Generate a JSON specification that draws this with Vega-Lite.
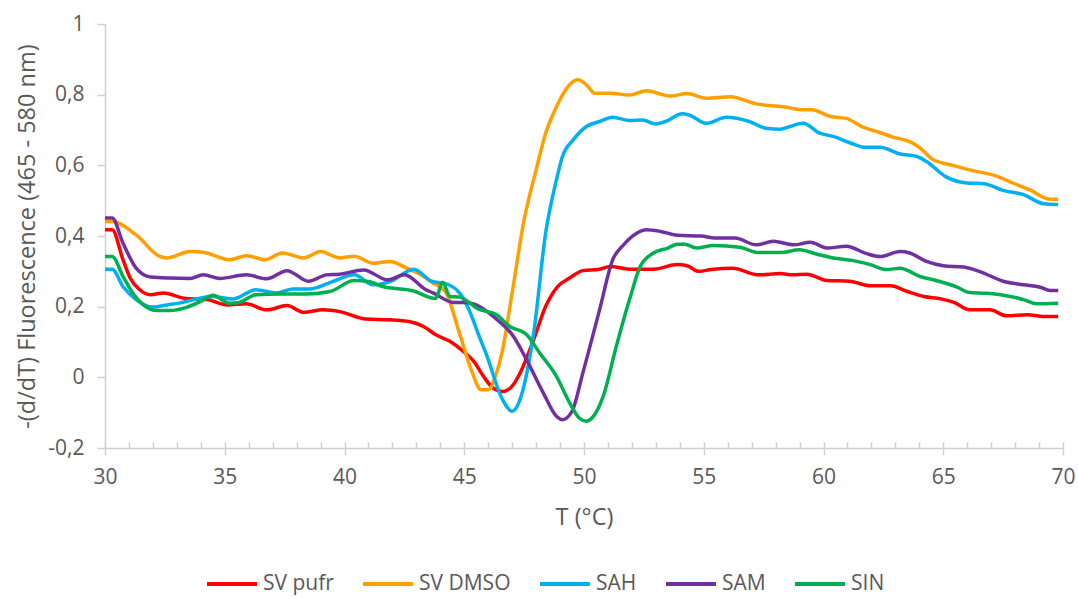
{
  "$schema": "https://vega.github.io/schema/vega-lite/v6.json",
  "autosize": "none",
  "width": 958,
  "height": 424,
  "padding": {"left": 105, "top": 24, "right": 15, "bottom": 151},
  "background": "white",
  "config": {
    "view": {"stroke": null},
    "font": "Open Sans",
    "axis": {"labelFont": "Open Sans", "titleFont": "Open Sans", "labelColor": "#595959", "titleColor": "#595959", "domainColor": "#D0D0D0", "tickColor": "#D0D0D0", "domainWidth": 1.5, "tickWidth": 1.5, "grid": false, "labelFontSize": 21, "titleFontSize": 23.5, "titleFontWeight": "normal"},
    "legend": {"labelFont": "Open Sans", "labelColor": "#595959", "labelFontSize": 21}
  },
  "datasets": {
    "curves": [
      {"s":"SV pufr","T":30.0,"v":0.418},{"s":"SV pufr","T":30.3,"v":0.418},{"s":"SV pufr","T":30.75,"v":0.333},{"s":"SV pufr","T":31.05,"v":0.281},{"s":"SV pufr","T":31.45,"v":0.248},{"s":"SV pufr","T":31.9,"v":0.234},{"s":"SV pufr","T":32.45,"v":0.239},{"s":"SV pufr","T":33.3,"v":0.224},{"s":"SV pufr","T":34.25,"v":0.220},{"s":"SV pufr","T":35.1,"v":0.205},{"s":"SV pufr","T":35.9,"v":0.208},{"s":"SV pufr","T":36.75,"v":0.191},{"s":"SV pufr","T":37.6,"v":0.203},{"s":"SV pufr","T":38.3,"v":0.184},{"s":"SV pufr","T":39.1,"v":0.191},{"s":"SV pufr","T":39.8,"v":0.186},{"s":"SV pufr","T":40.9,"v":0.165},{"s":"SV pufr","T":41.9,"v":0.163},{"s":"SV pufr","T":42.7,"v":0.158},{"s":"SV pufr","T":43.3,"v":0.144},{"s":"SV pufr","T":43.8,"v":0.121},{"s":"SV pufr","T":44.4,"v":0.102},{"s":"SV pufr","T":44.95,"v":0.074},{"s":"SV pufr","T":45.4,"v":0.045},{"s":"SV pufr","T":45.8,"v":0.003},{"s":"SV pufr","T":46.2,"v":-0.030},{"s":"SV pufr","T":46.6,"v":-0.040},{"s":"SV pufr","T":47.0,"v":-0.025},{"s":"SV pufr","T":47.3,"v":0.008},{"s":"SV pufr","T":47.9,"v":0.107},{"s":"SV pufr","T":48.4,"v":0.201},{"s":"SV pufr","T":48.9,"v":0.257},{"s":"SV pufr","T":49.4,"v":0.281},{"s":"SV pufr","T":49.95,"v":0.302},{"s":"SV pufr","T":50.65,"v":0.306},{"s":"SV pufr","T":51.1,"v":0.314},{"s":"SV pufr","T":51.9,"v":0.306},{"s":"SV pufr","T":52.9,"v":0.306},{"s":"SV pufr","T":53.9,"v":0.319},{"s":"SV pufr","T":54.3,"v":0.316},{"s":"SV pufr","T":54.8,"v":0.300},{"s":"SV pufr","T":55.3,"v":0.305},{"s":"SV pufr","T":56.2,"v":0.309},{"s":"SV pufr","T":57.3,"v":0.290},{"s":"SV pufr","T":58.2,"v":0.294},{"s":"SV pufr","T":58.7,"v":0.290},{"s":"SV pufr","T":59.3,"v":0.292},{"s":"SV pufr","T":60.15,"v":0.274},{"s":"SV pufr","T":61.1,"v":0.272},{"s":"SV pufr","T":61.95,"v":0.259},{"s":"SV pufr","T":62.8,"v":0.259},{"s":"SV pufr","T":63.5,"v":0.243},{"s":"SV pufr","T":64.2,"v":0.229},{"s":"SV pufr","T":64.9,"v":0.222},{"s":"SV pufr","T":65.45,"v":0.212},{"s":"SV pufr","T":66.1,"v":0.191},{"s":"SV pufr","T":66.95,"v":0.191},{"s":"SV pufr","T":67.65,"v":0.174},{"s":"SV pufr","T":68.5,"v":0.177},{"s":"SV pufr","T":69.3,"v":0.172},{"s":"SV pufr","T":69.8,"v":0.172},
      {"s":"SV DMSO","T":30.0,"v":0.441},{"s":"SV DMSO","T":30.3,"v":0.441},{"s":"SV DMSO","T":31.3,"v":0.403},{"s":"SV DMSO","T":32.3,"v":0.342},{"s":"SV DMSO","T":32.6,"v":0.338},{"s":"SV DMSO","T":33.55,"v":0.356},{"s":"SV DMSO","T":34.1,"v":0.354},{"s":"SV DMSO","T":35.2,"v":0.333},{"s":"SV DMSO","T":35.9,"v":0.344},{"s":"SV DMSO","T":36.7,"v":0.333},{"s":"SV DMSO","T":37.4,"v":0.352},{"s":"SV DMSO","T":38.3,"v":0.338},{"s":"SV DMSO","T":39.0,"v":0.356},{"s":"SV DMSO","T":39.8,"v":0.338},{"s":"SV DMSO","T":40.4,"v":0.343},{"s":"SV DMSO","T":41.2,"v":0.323},{"s":"SV DMSO","T":41.9,"v":0.328},{"s":"SV DMSO","T":42.6,"v":0.309},{"s":"SV DMSO","T":43.2,"v":0.290},{"s":"SV DMSO","T":43.7,"v":0.267},{"s":"SV DMSO","T":44.2,"v":0.244},{"s":"SV DMSO","T":44.8,"v":0.125},{"s":"SV DMSO","T":45.3,"v":0.020},{"s":"SV DMSO","T":45.7,"v":-0.035},{"s":"SV DMSO","T":46.0,"v":-0.035},{"s":"SV DMSO","T":46.35,"v":0.013},{"s":"SV DMSO","T":46.6,"v":0.078},{"s":"SV DMSO","T":47.0,"v":0.239},{"s":"SV DMSO","T":47.5,"v":0.446},{"s":"SV DMSO","T":48.0,"v":0.587},{"s":"SV DMSO","T":48.4,"v":0.691},{"s":"SV DMSO","T":48.85,"v":0.766},{"s":"SV DMSO","T":49.4,"v":0.828},{"s":"SV DMSO","T":49.75,"v":0.842},{"s":"SV DMSO","T":50.1,"v":0.828},{"s":"SV DMSO","T":50.45,"v":0.804},{"s":"SV DMSO","T":51.1,"v":0.804},{"s":"SV DMSO","T":51.9,"v":0.799},{"s":"SV DMSO","T":52.6,"v":0.811},{"s":"SV DMSO","T":53.6,"v":0.796},{"s":"SV DMSO","T":54.3,"v":0.803},{"s":"SV DMSO","T":55.1,"v":0.790},{"s":"SV DMSO","T":56.1,"v":0.794},{"s":"SV DMSO","T":57.2,"v":0.774},{"s":"SV DMSO","T":58.5,"v":0.764},{"s":"SV DMSO","T":59.15,"v":0.757},{"s":"SV DMSO","T":59.5,"v":0.757},{"s":"SV DMSO","T":60.3,"v":0.738},{"s":"SV DMSO","T":60.95,"v":0.733},{"s":"SV DMSO","T":61.65,"v":0.708},{"s":"SV DMSO","T":62.35,"v":0.693},{"s":"SV DMSO","T":62.9,"v":0.680},{"s":"SV DMSO","T":63.6,"v":0.667},{"s":"SV DMSO","T":64.0,"v":0.651},{"s":"SV DMSO","T":64.6,"v":0.615},{"s":"SV DMSO","T":65.0,"v":0.606},{"s":"SV DMSO","T":65.4,"v":0.600},{"s":"SV DMSO","T":66.1,"v":0.587},{"s":"SV DMSO","T":67.2,"v":0.570},{"s":"SV DMSO","T":67.9,"v":0.550},{"s":"SV DMSO","T":68.6,"v":0.531},{"s":"SV DMSO","T":69.45,"v":0.504},{"s":"SV DMSO","T":69.8,"v":0.504},
      {"s":"SAH","T":30.0,"v":0.306},{"s":"SAH","T":30.3,"v":0.306},{"s":"SAH","T":30.75,"v":0.257},{"s":"SAH","T":31.3,"v":0.220},{"s":"SAH","T":32.0,"v":0.199},{"s":"SAH","T":32.6,"v":0.205},{"s":"SAH","T":33.1,"v":0.210},{"s":"SAH","T":33.7,"v":0.220},{"s":"SAH","T":34.5,"v":0.229},{"s":"SAH","T":35.35,"v":0.222},{"s":"SAH","T":36.3,"v":0.248},{"s":"SAH","T":37.15,"v":0.239},{"s":"SAH","T":37.85,"v":0.250},{"s":"SAH","T":38.55,"v":0.250},{"s":"SAH","T":39.5,"v":0.271},{"s":"SAH","T":40.4,"v":0.290},{"s":"SAH","T":41.2,"v":0.262},{"s":"SAH","T":41.9,"v":0.271},{"s":"SAH","T":42.9,"v":0.306},{"s":"SAH","T":43.6,"v":0.273},{"s":"SAH","T":44.35,"v":0.262},{"s":"SAH","T":44.8,"v":0.239},{"s":"SAH","T":45.2,"v":0.191},{"s":"SAH","T":45.6,"v":0.120},{"s":"SAH","T":45.9,"v":0.069},{"s":"SAH","T":46.6,"v":-0.063},{"s":"SAH","T":47.0,"v":-0.096},{"s":"SAH","T":47.3,"v":-0.068},{"s":"SAH","T":47.9,"v":0.126},{"s":"SAH","T":48.4,"v":0.409},{"s":"SAH","T":48.85,"v":0.559},{"s":"SAH","T":49.1,"v":0.625},{"s":"SAH","T":49.55,"v":0.672},{"s":"SAH","T":50.1,"v":0.710},{"s":"SAH","T":50.65,"v":0.724},{"s":"SAH","T":51.2,"v":0.736},{"s":"SAH","T":51.9,"v":0.727},{"s":"SAH","T":52.45,"v":0.728},{"s":"SAH","T":53.0,"v":0.717},{"s":"SAH","T":53.4,"v":0.724},{"s":"SAH","T":54.1,"v":0.746},{"s":"SAH","T":54.4,"v":0.742},{"s":"SAH","T":55.1,"v":0.719},{"s":"SAH","T":55.95,"v":0.736},{"s":"SAH","T":56.9,"v":0.724},{"s":"SAH","T":57.6,"v":0.705},{"s":"SAH","T":58.2,"v":0.702},{"s":"SAH","T":58.6,"v":0.710},{"s":"SAH","T":59.15,"v":0.719},{"s":"SAH","T":59.85,"v":0.691},{"s":"SAH","T":60.4,"v":0.682},{"s":"SAH","T":61.1,"v":0.664},{"s":"SAH","T":61.75,"v":0.651},{"s":"SAH","T":62.35,"v":0.651},{"s":"SAH","T":63.2,"v":0.632},{"s":"SAH","T":63.9,"v":0.625},{"s":"SAH","T":64.3,"v":0.611},{"s":"SAH","T":65.1,"v":0.568},{"s":"SAH","T":66.0,"v":0.550},{"s":"SAH","T":66.7,"v":0.548},{"s":"SAH","T":67.5,"v":0.529},{"s":"SAH","T":68.35,"v":0.517},{"s":"SAH","T":69.2,"v":0.491},{"s":"SAH","T":69.8,"v":0.489},
      {"s":"SAM","T":30.0,"v":0.451},{"s":"SAM","T":30.3,"v":0.451},{"s":"SAM","T":30.75,"v":0.380},{"s":"SAM","T":31.3,"v":0.309},{"s":"SAM","T":31.9,"v":0.284},{"s":"SAM","T":32.7,"v":0.281},{"s":"SAM","T":33.55,"v":0.280},{"s":"SAM","T":34.1,"v":0.290},{"s":"SAM","T":34.8,"v":0.280},{"s":"SAM","T":35.9,"v":0.290},{"s":"SAM","T":36.75,"v":0.279},{"s":"SAM","T":37.6,"v":0.302},{"s":"SAM","T":38.5,"v":0.272},{"s":"SAM","T":39.25,"v":0.290},{"s":"SAM","T":39.8,"v":0.292},{"s":"SAM","T":40.8,"v":0.304},{"s":"SAM","T":41.8,"v":0.276},{"s":"SAM","T":42.5,"v":0.290},{"s":"SAM","T":43.4,"v":0.248},{"s":"SAM","T":43.7,"v":0.239},{"s":"SAM","T":44.55,"v":0.212},{"s":"SAM","T":45.1,"v":0.212},{"s":"SAM","T":45.5,"v":0.205},{"s":"SAM","T":46.2,"v":0.173},{"s":"SAM","T":47.05,"v":0.116},{"s":"SAM","T":47.6,"v":0.050},{"s":"SAM","T":48.3,"v":-0.044},{"s":"SAM","T":48.85,"v":-0.110},{"s":"SAM","T":49.1,"v":-0.120},{"s":"SAM","T":49.5,"v":-0.096},{"s":"SAM","T":49.95,"v":0.012},{"s":"SAM","T":50.65,"v":0.191},{"s":"SAM","T":51.2,"v":0.333},{"s":"SAM","T":51.65,"v":0.375},{"s":"SAM","T":52.2,"v":0.408},{"s":"SAM","T":52.6,"v":0.418},{"s":"SAM","T":53.2,"v":0.413},{"s":"SAM","T":53.9,"v":0.402},{"s":"SAM","T":54.9,"v":0.400},{"s":"SAM","T":55.45,"v":0.394},{"s":"SAM","T":56.3,"v":0.394},{"s":"SAM","T":57.2,"v":0.375},{"s":"SAM","T":57.9,"v":0.385},{"s":"SAM","T":58.75,"v":0.375},{"s":"SAM","T":59.45,"v":0.382},{"s":"SAM","T":60.15,"v":0.366},{"s":"SAM","T":60.95,"v":0.371},{"s":"SAM","T":61.8,"v":0.350},{"s":"SAM","T":62.35,"v":0.342},{"s":"SAM","T":63.2,"v":0.356},{"s":"SAM","T":63.6,"v":0.352},{"s":"SAM","T":64.3,"v":0.328},{"s":"SAM","T":65.0,"v":0.316},{"s":"SAM","T":65.85,"v":0.312},{"s":"SAM","T":66.5,"v":0.300},{"s":"SAM","T":67.5,"v":0.272},{"s":"SAM","T":68.35,"v":0.262},{"s":"SAM","T":69.05,"v":0.255},{"s":"SAM","T":69.45,"v":0.246},{"s":"SAM","T":69.8,"v":0.246},
      {"s":"SIN","T":30.0,"v":0.342},{"s":"SIN","T":30.3,"v":0.342},{"s":"SIN","T":30.75,"v":0.286},{"s":"SIN","T":31.2,"v":0.234},{"s":"SIN","T":31.6,"v":0.205},{"s":"SIN","T":32.15,"v":0.189},{"s":"SIN","T":32.7,"v":0.189},{"s":"SIN","T":33.4,"v":0.198},{"s":"SIN","T":34.0,"v":0.215},{"s":"SIN","T":34.5,"v":0.232},{"s":"SIN","T":35.2,"v":0.210},{"s":"SIN","T":35.6,"v":0.212},{"s":"SIN","T":36.3,"v":0.234},{"s":"SIN","T":37.3,"v":0.236},{"s":"SIN","T":38.4,"v":0.236},{"s":"SIN","T":39.4,"v":0.243},{"s":"SIN","T":40.4,"v":0.274},{"s":"SIN","T":41.0,"v":0.271},{"s":"SIN","T":41.6,"v":0.257},{"s":"SIN","T":42.85,"v":0.245},{"s":"SIN","T":43.8,"v":0.223},{"s":"SIN","T":44.1,"v":0.269},{"s":"SIN","T":44.4,"v":0.229},{"s":"SIN","T":44.8,"v":0.227},{"s":"SIN","T":45.6,"v":0.193},{"s":"SIN","T":46.35,"v":0.177},{"s":"SIN","T":46.9,"v":0.144},{"s":"SIN","T":47.6,"v":0.121},{"s":"SIN","T":48.15,"v":0.069},{"s":"SIN","T":48.85,"v":0.003},{"s":"SIN","T":49.4,"v":-0.072},{"s":"SIN","T":49.8,"v":-0.115},{"s":"SIN","T":50.1,"v":-0.124},{"s":"SIN","T":50.4,"v":-0.110},{"s":"SIN","T":50.8,"v":-0.054},{"s":"SIN","T":51.35,"v":0.088},{"s":"SIN","T":51.9,"v":0.220},{"s":"SIN","T":52.35,"v":0.314},{"s":"SIN","T":52.9,"v":0.352},{"s":"SIN","T":53.5,"v":0.366},{"s":"SIN","T":53.9,"v":0.377},{"s":"SIN","T":54.2,"v":0.377},{"s":"SIN","T":54.7,"v":0.366},{"s":"SIN","T":55.4,"v":0.373},{"s":"SIN","T":56.5,"v":0.368},{"s":"SIN","T":57.3,"v":0.353},{"s":"SIN","T":58.2,"v":0.353},{"s":"SIN","T":59.0,"v":0.361},{"s":"SIN","T":59.7,"v":0.349},{"s":"SIN","T":60.4,"v":0.338},{"s":"SIN","T":61.2,"v":0.331},{"s":"SIN","T":61.95,"v":0.319},{"s":"SIN","T":62.65,"v":0.305},{"s":"SIN","T":63.2,"v":0.309},{"s":"SIN","T":64.0,"v":0.286},{"s":"SIN","T":64.7,"v":0.274},{"s":"SIN","T":65.55,"v":0.256},{"s":"SIN","T":66.1,"v":0.240},{"s":"SIN","T":66.8,"v":0.238},{"s":"SIN","T":67.8,"v":0.229},{"s":"SIN","T":68.35,"v":0.220},{"s":"SIN","T":68.9,"v":0.208},{"s":"SIN","T":69.8,"v":0.210}
    ]
  },
  "data": {"name": "curves"},
  "encoding": {
    "y": {"field": "v", "type": "quantitative",
      "scale": {"domain": [-0.2, 1], "nice": false, "zero": false},
      "axis": {"values": [-0.2, 0, 0.2, 0.4, 0.6, 0.8, 1], "tickSize": 8, "labelPadding": 13, "titlePadding": 8,
        "title": "-(d/dT) Fluorescence (465 - 580 nm)",
        "labelExpr": "datum.value == 0 ? '0' : datum.value == 1 ? '1' : replace(replace(format(datum.value, '.1f'), '.', ','), '\u2212', '-')"}}
  },
  "layer": [
    {
      "mark": {"type": "line", "strokeWidth": 3.5, "interpolate": "monotone"},
      "encoding": {
        "x": {"field": "T", "type": "quantitative",
          "scale": {"domain": [30, 70], "nice": false, "zero": false},
          "axis": {"orient": "bottom", "values": [30, 35, 40, 45, 50, 55, 60, 65, 70], "tickSize": 7, "labelFlush": false, "labelPadding": 11, "titlePadding": 18, "title": "T (°C)"}},
        "color": {"field": "s", "type": "nominal",
          "scale": {"domain": ["SV pufr", "SV DMSO", "SAH", "SAM", "SIN"], "range": ["#FF0000", "#FF9F00", "#00B0F0", "#7030A0", "#00B050"]},
          "legend": {"title": null, "orient": "none", "legendX": 100, "legendY": 533, "direction": "horizontal", "symbolType": "stroke", "symbolSize": 2500, "symbolStrokeWidth": 4, "labelOffset": 4, "columnPadding": 21}},
        "order": {"field": "T", "type": "quantitative"}
      }
    },
    {
      "mark": {"type": "point", "opacity": 0},
      "encoding": {
        "x": {"field": "T", "type": "quantitative",
          "axis": {"orient": "bottom", "values": [30,31,32,33,34,35,36,37,38,39,40,41,42,43,44,45,46,47,48,49,50,51,52,53,54,55,56,57,58,59,60,61,62,63,64,65,66,67,68,69,70], "tickSize": -6, "labels": false, "domain": false, "title": null}}
      }
    }
  ],
  "resolve": {"axis": {"x": "independent"}}
}
